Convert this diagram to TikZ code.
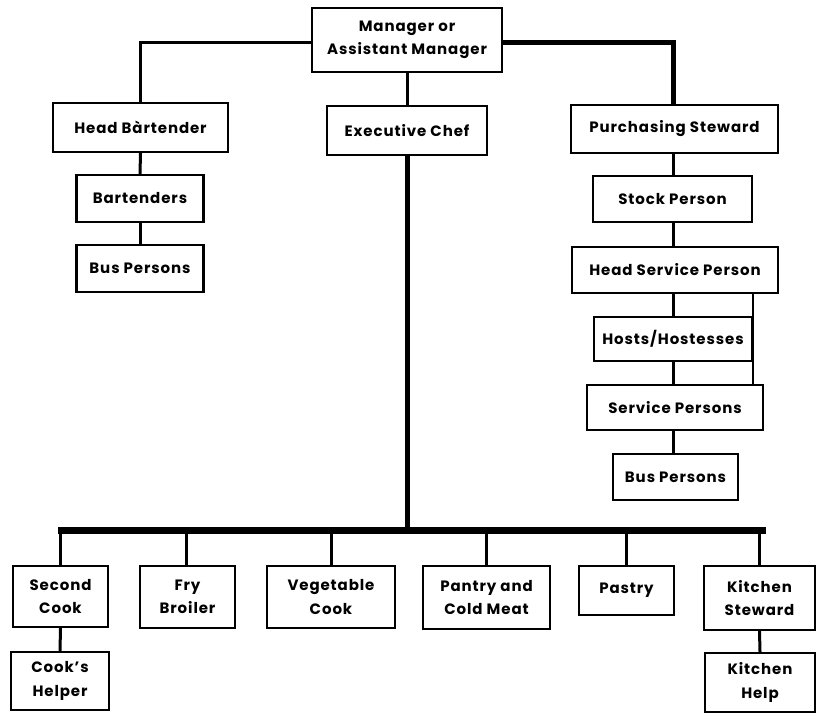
\documentclass[tikz,border=0pt]{standalone}
\usepackage{fontspec}
\setmainfont{Poppins}[LetterSpace=6]
\begin{document}
\begin{tikzpicture}[x=1pt,y=-1pt,
  box/.style={draw, line width=2.2pt, inner sep=0pt, align=center,
    font=\fontsize{15}{23.5}\selectfont\bfseries},
  conn/.style={line width=3pt},
  thickconn/.style={line width=5pt},
  busline/.style={line width=7pt}]
\useasboundingbox (0,0) rectangle (816,715);
% top level
\node[box, minimum width=190pt, minimum height=64pt] (mgr) at (407,40) {Manager or\\Assistant Manager};
% left branch
\node[box, minimum width=175pt, minimum height=49pt] (hb) at (140.5,127.5) {Head Bàrtender};
\node[box, minimum width=127pt, minimum height=47pt] (bt) at (140,198.5) {Bartenders};
\node[box, minimum width=127pt, minimum height=47pt] (bpl) at (140,268.5) {Bus Persons};
% centre
\node[box, minimum width=160pt, minimum height=49pt] (ec) at (407,130.5) {Executive Chef};
% right branch
\node[box, minimum width=207pt, minimum height=48pt] (ps) at (674.5,129) {Purchasing Steward};
\node[box, minimum width=159pt, minimum height=46pt] (sp1) at (672.5,199) {Stock Person};
\node[box, minimum width=206pt, minimum height=46pt] (hsp) at (675,270) {Head Service Person};
\node[box, minimum width=158pt, minimum height=44pt] (hh) at (673,339) {Hosts/Hostesses};
\node[box, minimum width=176pt, minimum height=45pt] (svp) at (675,407.5) {Service Persons};
\node[box, minimum width=125pt, minimum height=46pt] (bpr) at (675.5,477) {Bus Persons};
% bottom row
\node[box, minimum width=95pt, minimum height=61pt] (sc) at (60.5,596.5) {Second\\Cook};
\node[box, minimum width=98pt, minimum height=58pt] (ch) at (60,681) {Cook{\char"27}s\\Helper};
\node[box, minimum width=95pt, minimum height=62pt] (fb) at (187.5,597) {Fry\\Broiler};
\node[box, minimum width=128pt, minimum height=62pt] (vc) at (331,597) {Vegetable\\Cook};
\node[box, minimum width=127pt, minimum height=63pt] (pc) at (486.5,597.5) {Pantry and\\Cold Meat};
\node[box, minimum width=95pt, minimum height=49pt] (pa) at (626.5,590.5) {Pastry};
\node[box, minimum width=111pt, minimum height=64pt] (ks) at (759.5,598) {Kitchen\\Steward};
\node[box, minimum width=110pt, minimum height=59pt] (kh) at (760,682.5) {Kitchen\\Help};
% bus coordinates
\coordinate (busL) at (58,530);
\coordinate (busR) at (766,530);
\coordinate (busC) at (407,530);
% connectors
\draw[conn] (mgr.west |- 0,42) -| (hb.north);
\draw[thickconn] (mgr.east |- 0,42) -| (ps.north -| 673,0);
\draw[conn] (mgr.south) -- (ec.north);
\draw[conn] (hb.south) -- (bt.north);
\draw[conn] (bt.south) -- (bpl.north);
\draw[conn] (ps.south -| 673,0) -- (sp1.north -| 673,0);
\draw[conn] (sp1.south -| 673,0) -- (hsp.north -| 673,0);
\draw[conn] (hsp.south -| 673,0) -- (hh.north -| 673,0);
\draw[conn] (hh.south -| 673,0) -- (svp.north -| 673,0);
\draw[conn] (svp.south -| 673,0) -- (bpr.north -| 673,0);
\draw[line width=2.5pt] (hsp.south -| 753,0) -- (svp.north -| 753,0);
\draw[thickconn] (ec.south) -- (busC);
\draw[busline] (busL) -- (busR);
\draw[conn] (busL -| sc.north) ++(0,3) -- (sc.north);
\draw[conn] (busL -| 186,0) -- (fb.north -| 186,0);
\draw[conn] (busL -| vc.north) -- (vc.north);
\draw[conn] (busL -| pc.north) -- (pc.north);
\draw[conn] (busL -| pa.north) -- (pa.north);
\draw[conn] (busL -| ks.north) -- (ks.north);
\draw[conn] (sc.south) -- (ch.north);
\draw[conn] (ks.south) -- (kh.north);
\end{tikzpicture}
\end{document}
